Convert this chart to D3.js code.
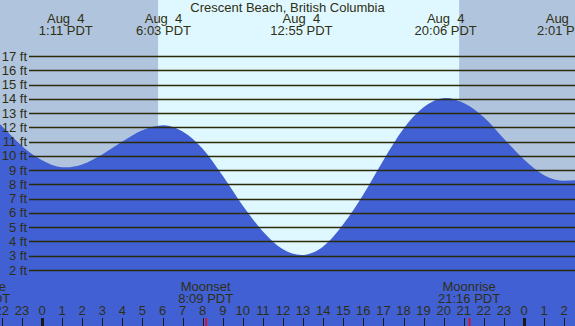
<!DOCTYPE html>
<html>
<head>
<meta charset="utf-8">
<script src="https://cdn.jsdelivr.net/npm/d3@7"></script>
<style>
  body { margin: 0; background: #fff; }
  svg { display: block; font-family: "Liberation Sans", Arial, sans-serif; }
  .lbl { white-space: pre; fill: #2f2f14; font-size: 13px; }
</style>
</head>
<body>
<svg id="chart"></svg>
<script>
const chartSize = { width: 575, height: 326 };
const title = "Crescent Beach, British Columbia";

// water level (hours from midnight Aug 4, feet)
const tideHours = [-3, -2, -1, 0, 1, 1.18, 2, 3, 4, 5, 6.05, 7, 8, 9, 10, 11, 12, 12.92,
  14, 15, 16, 17, 18, 19, 20.1, 21, 22, 23, 24, 25, 26.02, 27];
const tideFeet = [13.3, 12.1, 10.7, 9.7, 9.21, 9.2, 9.4, 10.1, 11.0, 11.8, 12.15, 11.7, 10.5, 8.6, 6.5, 4.7, 3.45, 3.05,
  3.65, 5.2, 7.3, 9.7, 11.9, 13.4, 14.05, 13.7, 12.7, 11.2, 9.75, 8.65, 8.25, 8.35];

// high / low labels along the top
const eventHours = [1.183, 6.05, 12.917, 20.1, 26.017];
const eventDates = ["Aug  4", "Aug  4", "Aug  4", "Aug  4", "Aug  5"];
const eventTimes = ["1:11 PDT", "6:03 PDT", "12:55 PDT", "20:06 PDT", "2:01 PDT"];

// moon events along the bottom
const moonHours = [-3.13, 8.15, 21.267];
const moonNames = ["Moonrise", "Moonset", "Moonrise"];
const moonTimes = ["20:52 PDT", "8:09 PDT", "21:16 PDT"];

// daylight
const sunriseHours = [5.78];
const sunsetHours = [20.77];

const feetTicks = [2, 3, 4, 5, 6, 7, 8, 9, 10, 11, 12, 13, 14, 15, 16, 17];
const hourTicks = d3.range(-2, 27);

const tide = tideHours.map((h, i) => ({ h, ft: tideFeet[i] }));

const x = d3.scaleLinear().domain([0, 24]).range([42, 524]);
const y = d3.scaleLinear().domain([2, 17]).range([270, 56]);

const svg = d3.select("#chart")
  .attr("width", chartSize.width)
  .attr("height", chartSize.height);

// night background, then day band
svg.append("rect")
  .attr("width", chartSize.width)
  .attr("height", chartSize.height)
  .attr("fill", "#b0c4de");

svg.selectAll("rect.day")
  .data(sunriseHours)
  .join("rect")
  .attr("class", "day")
  .attr("x", d => x(d))
  .attr("width", (d, i) => x(sunsetHours[i]) - x(d))
  .attr("y", 0)
  .attr("height", chartSize.height)
  .attr("fill", "#dff8ff");

// water
const area = d3.area()
  .x(d => x(d.h))
  .y0(chartSize.height)
  .y1(d => y(d.ft))
  .curve(d3.curveMonotoneX);

svg.append("path")
  .attr("d", area(tide))
  .attr("fill", "#4160d4");

// grid lines and foot labels
svg.selectAll("line.grid")
  .data(feetTicks)
  .join("line")
  .attr("class", "grid")
  .attr("x1", 29)
  .attr("x2", chartSize.width)
  .attr("y1", d => Math.round(y(d)) + 0.5)
  .attr("y2", d => Math.round(y(d)) + 0.5)
  .attr("stroke", "#2b2b08")
  .attr("stroke-width", 1.3);

svg.selectAll("text.ft")
  .data(feetTicks)
  .join("text")
  .attr("class", "lbl ft")
  .attr("x", 27)
  .attr("y", d => y(d) + 4.5)
  .attr("text-anchor", "end")
  .text(d => d + " ft");

// title and tide events
svg.append("text")
  .attr("class", "lbl")
  .attr("x", 287.5)
  .attr("y", 12)
  .attr("text-anchor", "middle")
  .text(title);

const ev = svg.selectAll("g.ev")
  .data(eventHours)
  .join("g")
  .attr("class", "ev")
  .attr("transform", d => `translate(${x(d)},0)`);

ev.append("text")
  .attr("class", "lbl")
  .attr("y", 23)
  .attr("text-anchor", "middle")
  .text((d, i) => eventDates[i]);

ev.append("text")
  .attr("class", "lbl")
  .attr("y", 35)
  .attr("text-anchor", "middle")
  .text((d, i) => eventTimes[i]);

// moon events
const moon = svg.selectAll("g.moon")
  .data(moonHours)
  .join("g")
  .attr("class", "moon")
  .attr("transform", d => `translate(${x(d)},0)`);

moon.append("text")
  .attr("class", "lbl")
  .attr("y", 291)
  .attr("text-anchor", "middle")
  .text((d, i) => moonNames[i]);

moon.append("text")
  .attr("class", "lbl")
  .attr("y", 303)
  .attr("text-anchor", "middle")
  .text((d, i) => moonTimes[i]);

moon.append("line")
  .attr("x1", 0.5).attr("x2", 0.5)
  .attr("y1", 318).attr("y2", chartSize.height)
  .attr("stroke", "#ff0000")
  .attr("stroke-width", 1.5);

// hour ticks
svg.selectAll("text.hr")
  .data(hourTicks)
  .join("text")
  .attr("class", "lbl hr")
  .attr("x", d => x(d))
  .attr("y", 315)
  .attr("text-anchor", "middle")
  .text(d => ((d % 24) + 24) % 24);

svg.selectAll("line.hr")
  .data(hourTicks)
  .join("line")
  .attr("class", "hr")
  .attr("x1", d => Math.round(x(d)) + 0.5)
  .attr("x2", d => Math.round(x(d)) + 0.5)
  .attr("y1", 318)
  .attr("y2", chartSize.height)
  .attr("stroke", "#1a1a1a")
  .attr("stroke-width", d => (d % 24 === 0 ? 3 : 1));
</script>
</body>
</html>
